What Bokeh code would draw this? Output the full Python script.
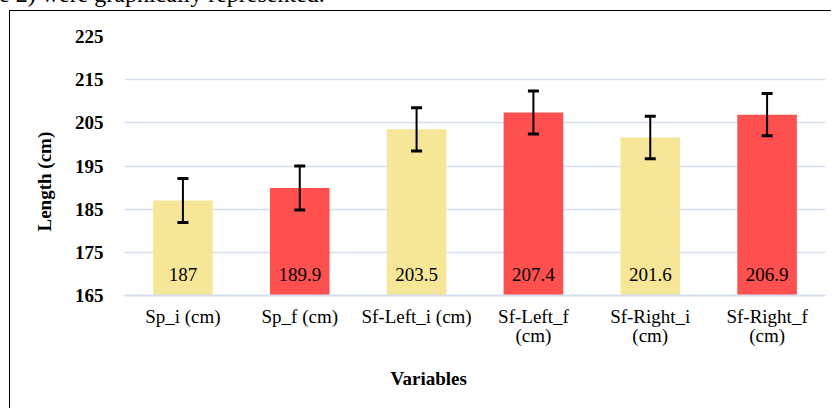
from bokeh.plotting import figure
from bokeh.models import (ColumnDataSource, Whisker, FixedTicker, Range1d, TeeHead,
                          CategoricalAxis, CustomJSTickFormatter, Title, Div)
from bokeh.layouts import column
from bokeh.core.properties import value
from bokeh.embed import file_html
from bokeh.resources import INLINE

# ---- data ----
categories = ["Sp_i (cm)", "Sp_f (cm)", "Sf-Left_i (cm)", "Sf-Left_f (cm)", "Sf-Right_i (cm)", "Sf-Right_f (cm)"]
tick_line1 = ["Sp_i (cm)", "Sp_f (cm)", "Sf-Left_i (cm)", "Sf-Left_f", "Sf-Right_i", "Sf-Right_f"]
tick_line2 = ["", "", "", "(cm)", "(cm)", "(cm)"]
means = [187, 189.9, 203.5, 207.4, 201.6, 206.9]
errors = [5.1, 5.1, 5.0, 5.0, 4.9, 4.9]
bar_colors = ["#F5E797", "#FF5050", "#F5E797", "#FF5050", "#F5E797", "#FF5050"]
y_ticks = [165, 175, 185, 195, 205, 215, 225]
caption_fragment = "e 2) were graphically represented."

FONT = "Liberation Serif"

src = ColumnDataSource(dict(
    cat=categories,
    mean=means,
    upper=[m + e for m, e in zip(means, errors)],
    lower=[m - e for m, e in zip(means, errors)],
    color=bar_colors,
    label=[f"{m:g}" for m in means],
))

p = figure(
    x_range=categories, y_range=Range1d(165, 225),
    width=822, height=398,
    output_backend="svg", toolbar_location=None,
    min_border_left=114, min_border_right=7, min_border_top=25, min_border_bottom=114,
    styles={"border-left": "1px solid black", "border-top": "1px solid black",
            "margin-left": "9px"},
)
p.outline_line_color = None
p.background_fill_color = "white"
p.border_fill_color = "white"

p.vbar(x="cat", top="mean", bottom=165, width=0.51, color="color", line_color=None, source=src)

p.add_layout(Whisker(base="cat", upper="upper", lower="lower", source=src, level="overlay",
                     line_color="black", line_width=2,
                     upper_head=TeeHead(size=11, line_width=3, line_color="black"),
                     lower_head=TeeHead(size=11, line_width=3, line_color="black")))

p.text(x="cat", y=165, text="label", source=src, y_offset=-21,
       text_align="center", text_baseline="middle",
       text_font=value(FONT), text_font_size="19px", text_color="black")

# grid
p.xgrid.grid_line_color = None
p.ygrid.grid_line_color = "#D5E0EF"
p.ygrid.grid_line_width = 1.5
p.ygrid.ticker = FixedTicker(ticks=y_ticks)

# y axis
p.yaxis.ticker = FixedTicker(ticks=y_ticks)
p.yaxis.axis_line_color = None
p.yaxis.major_tick_line_color = None
p.yaxis.minor_tick_line_color = None
p.yaxis.major_tick_out = 0
p.yaxis.major_label_standoff = 21
p.yaxis.major_label_text_font = FONT
p.yaxis.major_label_text_font_style = "bold"
p.yaxis.major_label_text_font_size = "19px"
p.yaxis.major_label_text_color = "black"

# x axis (first line of labels)
fmt1 = CustomJSTickFormatter(args=dict(cats=categories, labels=tick_line1),
                             code="return labels[cats.indexOf(tick)];")
fmt2 = CustomJSTickFormatter(args=dict(cats=categories, labels=tick_line2),
                             code="return labels[cats.indexOf(tick)];")
xa = p.xaxis[0]
xa.formatter = fmt1
xa.axis_line_color = "#D5E0EF"
xa.axis_line_width = 2
xa.major_tick_line_color = None
xa.major_tick_out = 0
xa.major_label_standoff = 10
xa.major_label_text_font = FONT
xa.major_label_text_font_size = "19px"
xa.major_label_text_color = "black"

# second line of labels
xa2 = CategoricalAxis(formatter=fmt2, axis_line_color=None, major_tick_line_color=None,
                      minor_tick_line_color=None, major_tick_out=0, major_label_standoff=-5,
                      major_label_text_font=FONT, major_label_text_font_size="19px",
                      major_label_text_color="black")
p.add_layout(xa2, "below")

# axis titles
p.add_layout(Title(text="Variables", align="left", offset=266, text_font=FONT,
                   text_font_style="bold", text_font_size="19px", text_color="black",
                   standoff=35), "below")
p.add_layout(Title(text="Length (cm)", align="left", offset=64, text_font=FONT,
                   text_font_style="bold", text_font_size="19px", text_color="black",
                   standoff=34), "left")

caption = Div(
    text=('<div style="height:0px; overflow:visible;">'
          '<div style="position:relative; top:-18px; left:-1px; white-space:nowrap; '
          'font-family:\'Liberation Serif\'; font-size:24px; line-height:24px; color:black;">'
          + caption_fragment + '</div></div>'),
    width=830, height=10,
    styles={"overflow": "visible", "height": "10px", "margin": "0px", "padding": "0px"},
)

layout = column(caption, p, spacing=0)

open("out.html", "w").write(file_html(layout, INLINE))
